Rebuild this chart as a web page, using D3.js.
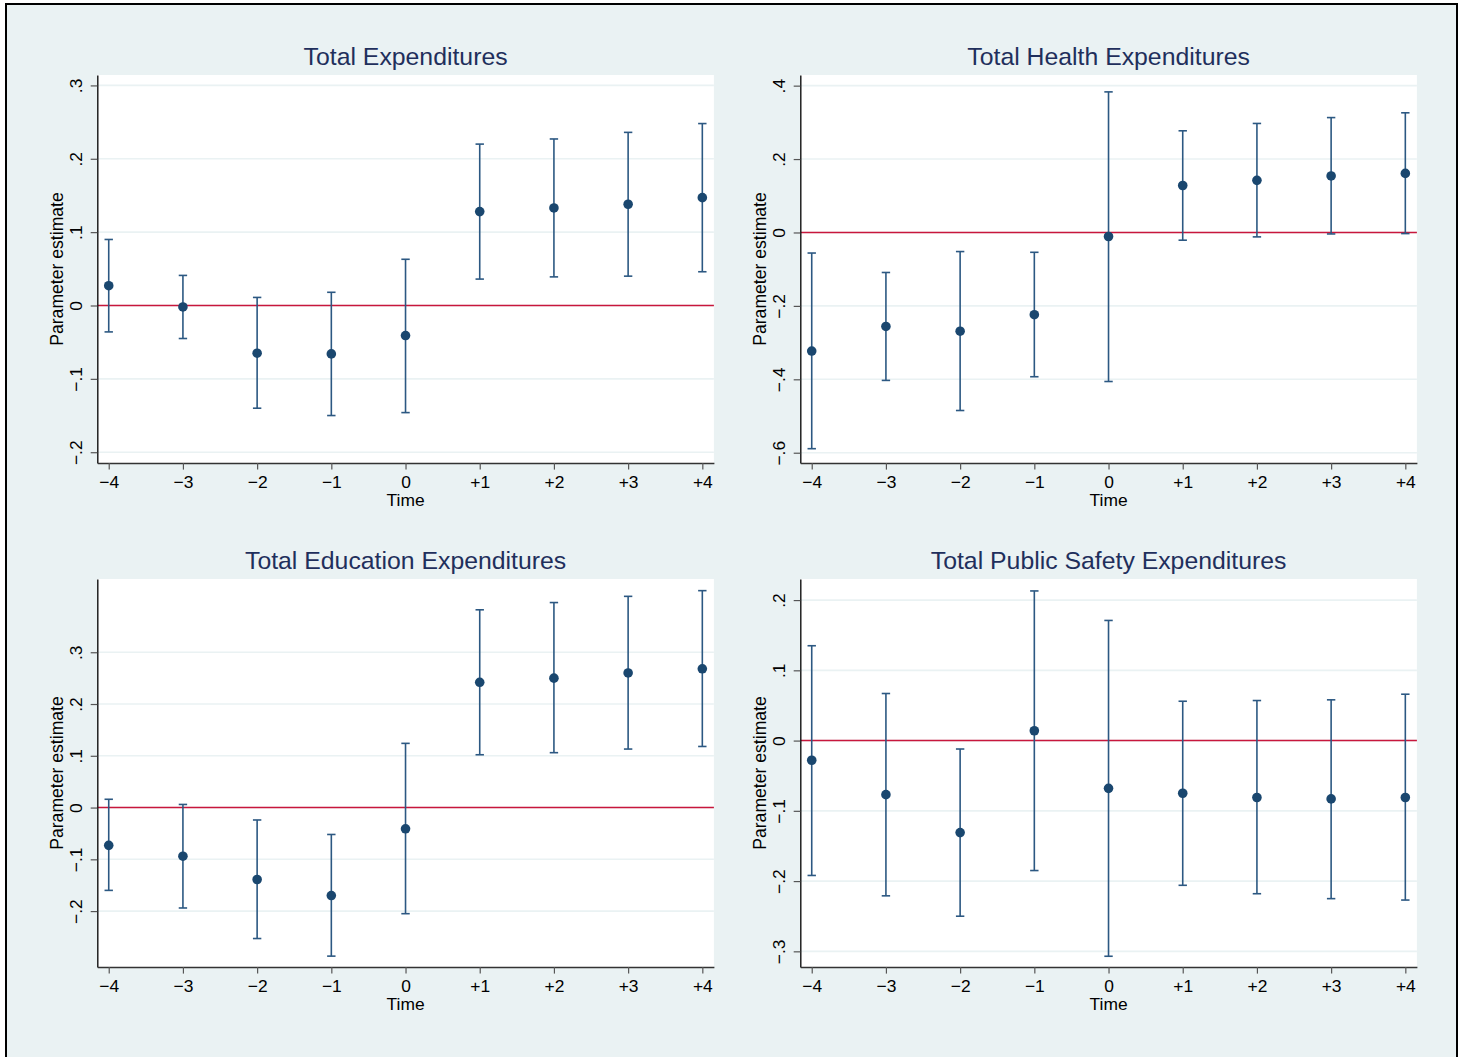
<!DOCTYPE html>
<html>
<head>
<meta charset="utf-8">
<script src="https://cdn.jsdelivr.net/npm/d3@7"></script>
<style>
  body { margin: 0; background: #ffffff; }
  svg { display: block; font-family: "Liberation Sans", Arial, sans-serif; }
</style>
</head>
<body>
<div id="chart"></div>
<script>
// event time
var periods = [-4, -3, -2, -1, 0, 1, 2, 3, 4];
var periodLabels = ["\u22124", "\u22123", "\u22122", "\u22121", "0", "+1", "+2", "+3", "+4"];

var titles = ["Total Expenditures", "Total Health Expenditures",
              "Total Education Expenditures", "Total Public Safety Expenditures"];

// point estimates and 95% CI bounds
var totalEst = [0.027, -0.002, -0.065, -0.066, -0.041, 0.128, 0.133, 0.138, 0.147];
var totalLo  = [-0.036, -0.045, -0.140, -0.150, -0.146, 0.036, 0.039, 0.040, 0.046];
var totalHi  = [0.090, 0.041, 0.011, 0.018, 0.063, 0.220, 0.227, 0.236, 0.248];

var healthEst = [-0.323, -0.256, -0.269, -0.224, -0.011, 0.128, 0.142, 0.154, 0.161];
var healthLo  = [-0.589, -0.403, -0.485, -0.393, -0.406, -0.021, -0.012, -0.004, -0.003];
var healthHi  = [-0.056, -0.109, -0.052, -0.054, 0.383, 0.277, 0.297, 0.313, 0.326];

var eduEst = [-0.073, -0.094, -0.139, -0.170, -0.041, 0.242, 0.250, 0.260, 0.268];
var eduLo  = [-0.160, -0.194, -0.253, -0.287, -0.205, 0.102, 0.106, 0.113, 0.118];
var eduHi  = [0.016, 0.006, -0.024, -0.052, 0.124, 0.382, 0.396, 0.408, 0.419];

var safetyEst = [-0.028, -0.077, -0.131, 0.014, -0.068, -0.075, -0.081, -0.083, -0.081];
var safetyLo  = [-0.192, -0.221, -0.250, -0.185, -0.307, -0.206, -0.218, -0.225, -0.227];
var safetyHi  = [0.135, 0.067, -0.012, 0.213, 0.171, 0.056, 0.057, 0.058, 0.066];

// y axis ticks and ranges
var totalTicks  = [-0.2, -0.1, 0, 0.1, 0.2, 0.3];
var healthTicks = [-0.6, -0.4, -0.2, 0, 0.2, 0.4];
var eduTicks    = [-0.2, -0.1, 0, 0.1, 0.2, 0.3];
var safetyTicks = [-0.3, -0.2, -0.1, 0, 0.1, 0.2];

var totalRange  = [-0.2147, 0.3142];
var healthRange = [-0.628, 0.429];
var eduRange    = [-0.308, 0.4415];
var safetyRange = [-0.3223, 0.230];

var xRange = [-4.154, 4.156];

var panels = [
  { title: titles[0], est: totalEst,  lo: totalLo,  hi: totalHi,  ticks: totalTicks,  range: totalRange,  left: 97.3,  top: 75 },
  { title: titles[1], est: healthEst, lo: healthLo, hi: healthHi, ticks: healthTicks, range: healthRange, left: 800.3, top: 75 },
  { title: titles[2], est: eduEst,    lo: eduLo,    hi: eduHi,    ticks: eduTicks,    range: eduRange,    left: 97.3,  top: 579 },
  { title: titles[3], est: safetyEst, lo: safetyLo, hi: safetyHi, ticks: safetyTicks, range: safetyRange, left: 800.3, top: 579 }
];

var W = 1465, H = 1057;
var pw = 616.6, ph = 388;

var navy = "#1a476f";
var capColor = "#2c5882";
var bg = "#eaf2f3";

function stataFmt(v) {
  if (Math.abs(v) < 1e-9) return "0";
  var s = String(+Math.abs(v).toFixed(2)).replace(/^0/, "");
  return (v < 0 ? "\u2212" : "") + s;
}

var svg = d3.select("#chart").append("svg")
  .attr("width", W)
  .attr("height", H);

svg.append("rect")
  .attr("x", 6).attr("y", 4)
  .attr("width", 1451).attr("height", H + 10)
  .attr("fill", bg)
  .attr("stroke", "#000")
  .attr("stroke-width", 2);

panels.forEach(function(p) {
  var g = svg.append("g").attr("transform", "translate(" + p.left + "," + p.top + ")");

  var x = d3.scaleLinear().domain(xRange).range([0, pw]);
  var y = d3.scaleLinear().domain(p.range).range([ph, 0]);

  g.append("rect")
    .attr("width", pw).attr("height", ph)
    .attr("fill", "#fff");

  // gridlines
  g.selectAll(".grid").data(p.ticks).enter().append("line")
    .attr("x1", 0).attr("x2", pw)
    .attr("y1", function(d) { return y(d); })
    .attr("y2", function(d) { return y(d); })
    .attr("stroke", bg)
    .attr("stroke-width", 1.6);

  // reference line at zero
  g.append("line")
    .attr("x1", 0).attr("x2", pw)
    .attr("y1", y(0)).attr("y2", y(0))
    .attr("stroke", "#c8173c")
    .attr("stroke-width", 1.5);

  var pts = periods.map(function(t, i) {
    return { t: t, est: p.est[i], lo: p.lo[i], hi: p.hi[i] };
  });

  var bars = g.selectAll(".ci").data(pts).enter().append("g")
    .attr("stroke", capColor)
    .attr("stroke-width", 1.6);

  bars.append("line")
    .attr("x1", function(d) { return x(d.t); })
    .attr("x2", function(d) { return x(d.t); })
    .attr("y1", function(d) { return y(d.lo); })
    .attr("y2", function(d) { return y(d.hi); });
  bars.append("line")
    .attr("x1", function(d) { return x(d.t) - 4.2; })
    .attr("x2", function(d) { return x(d.t) + 4.2; })
    .attr("y1", function(d) { return y(d.lo); })
    .attr("y2", function(d) { return y(d.lo); });
  bars.append("line")
    .attr("x1", function(d) { return x(d.t) - 4.2; })
    .attr("x2", function(d) { return x(d.t) + 4.2; })
    .attr("y1", function(d) { return y(d.hi); })
    .attr("y2", function(d) { return y(d.hi); });

  g.selectAll(".pt").data(pts).enter().append("circle")
    .attr("cx", function(d) { return x(d.t); })
    .attr("cy", function(d) { return y(d.est); })
    .attr("r", 4.8)
    .attr("fill", navy);

  // y axis
  var ya = g.append("g")
    .call(d3.axisLeft(y).tickValues(p.ticks).tickFormat(stataFmt).tickSize(6.6).tickSizeOuter(0));
  ya.select(".domain").attr("stroke", "#111").attr("stroke-width", 1.4);
  ya.selectAll(".tick line").attr("stroke", "#555").attr("stroke-width", 1.2);
  ya.selectAll(".tick text")
    .attr("transform", "rotate(-90)")
    .attr("x", 0).attr("y", -15).attr("dy", 0)
    .attr("text-anchor", "middle")
    .attr("fill", "#000")
    .style("font-size", "17.4px");

  // x axis
  var xa = g.append("g")
    .attr("transform", "translate(0," + ph + ")")
    .call(d3.axisBottom(x).tickValues(periods)
      .tickFormat(function(d, i) { return periodLabels[i]; })
      .tickSize(6.6).tickSizeOuter(0));
  xa.select(".domain").attr("stroke", "#333").attr("stroke-width", 1.4);
  xa.selectAll(".tick line").attr("stroke", "#555").attr("stroke-width", 1.2);
  xa.selectAll(".tick text")
    .attr("y", 24.5).attr("dy", 0)
    .attr("fill", "#000")
    .style("font-size", "17.4px");

  g.append("text")
    .attr("x", pw / 2).attr("y", ph + 42.5)
    .attr("text-anchor", "middle")
    .style("font-size", "17.4px")
    .attr("fill", "#000")
    .text("Time");

  g.append("text")
    .attr("transform", "translate(-34," + (ph / 2) + ") rotate(-90)")
    .attr("text-anchor", "middle")
    .style("font-size", "17.6px")
    .attr("fill", "#000")
    .text("Parameter estimate");

  g.append("text")
    .attr("x", pw / 2).attr("y", -10)
    .attr("text-anchor", "middle")
    .style("font-size", "24.8px")
    .attr("fill", "#1f2f5c")
    .text(p.title);
});
</script>
</body>
</html>
